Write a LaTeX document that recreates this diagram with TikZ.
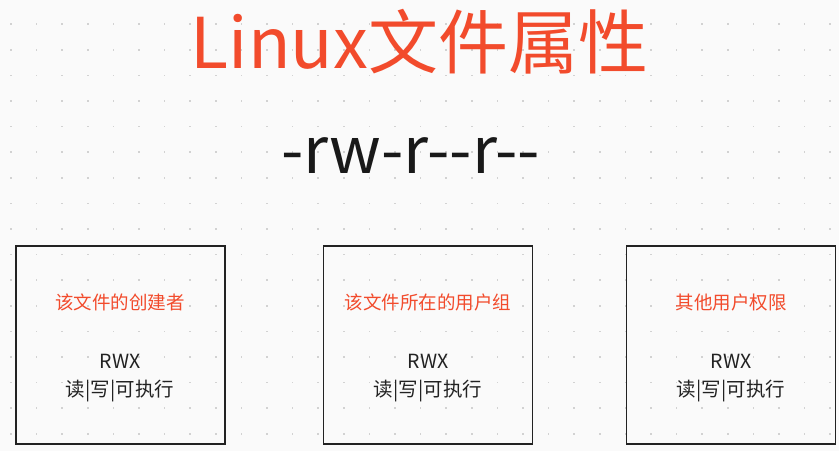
\documentclass[tikz,border=0pt]{standalone}
\usepackage{fontspec}
\setmainfont{Noto Sans CJK SC}
\definecolor{bgc}{HTML}{FAFAFA}
\definecolor{dotc}{HTML}{D2D2D2}
\definecolor{redc}{HTML}{F24B2C}
\definecolor{inkc}{HTML}{222222}
\begin{document}
\begin{tikzpicture}[x=1pt,y=-1pt,
  panel/.style={draw=inkc,line width=1.5pt,fill=none,minimum width=209pt,minimum height=198pt,inner sep=0pt},
  head/.style={text=redc,font=\fontsize{18.5}{22}\selectfont,inner sep=0pt},
  body/.style={text=inkc,font=\fontsize{19.5}{28}\selectfont,align=center,inner sep=0pt}]
\fill[bgc] (0,0) rectangle (839,451);
\useasboundingbox (0,0) rectangle (839,451);
\foreach \i in {0,...,32}{
  \foreach \j in {0,...,16}{
    \fill[dotc] ({11+25.6*\i-0.8},{24.2+25.6*\j-0.8}) rectangle +(1.6,1.6);
  }
}
\node[text=redc,font=\fontsize{70}{80}\selectfont,anchor=base,inner sep=0pt] (title) at (419.5,68) {Linux文件属性};
\node[text=black!90,font=\fontsize{64.5}{80}\selectfont,anchor=base,inner sep=0pt] (perm) at (410.5,173) {-rw-r{-}{-}r{-}{-}};
\node[panel] (b1) at (120.5,345) {};
\node[panel] (b2) at (428,345) {};
\node[panel] (b3) at (731,345) {};
\node[head] (h1) at (120,302.5) {该文件的创建者};
\node[head] (h2) at (428,302.5) {该文件所在的用户组};
\node[head] (h3) at (731,302.5) {其他用户权限};
\node[body] (t1) at (120,378.5) {RWX\\读|写|可执行};
\node[body] (t2) at (428,378.5) {RWX\\读|写|可执行};
\node[body] (t3) at (731,378.5) {RWX\\读|写|可执行};
\end{tikzpicture}
\end{document}
